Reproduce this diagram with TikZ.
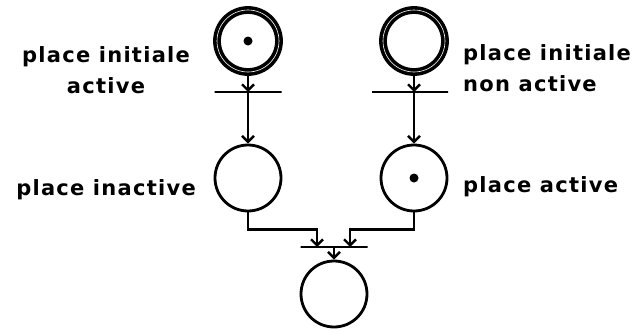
\documentclass[tikz,border=0pt]{standalone}
\usepackage{fontspec}
\setmainfont{DejaVu Sans}[BoldFont={DejaVu Sans Bold}, LetterSpace=6]
\usetikzlibrary{arrows.meta}
\tikzset{
  place/.style={circle, draw, line width=2.8pt, minimum size=66pt, inner sep=0pt},
  initplace/.style={circle, draw, line width=3.6pt, double=white, double distance=0.6pt, minimum size=62pt, inner sep=0pt},
  bar/.style={draw, line width=2.4pt, minimum height=0pt, inner sep=0pt, shape=rectangle},
  arc/.style={line width=2.6pt, -{Straight Barb[length=6pt,width=12pt,line width=2.4pt]}},
  lbl/.style={font=\fontsize{21}{31}\selectfont\bfseries, inner sep=0pt},
  token/.style={circle, fill, minimum size=9pt, inner sep=0pt}
}
\begin{document}
\begin{tikzpicture}[x=1pt,y=-1pt]
\useasboundingbox (0,0) rectangle (641,332);
% places
\node[initplace] (p1) at (248,41) {};
\node[token] (k1) at (p1.center) {};
\node[initplace] (p2) at (414,41) {};
\node[place] (p3) at (248,178) {};
\node[place] (p4) at (414,178) {};
\node[token] (k4) at (p4.center) {};
\node[place] (p5) at (334,294) {};
% transitions
\node[bar, minimum width=67pt] (t1) at (248,92) {};
\node[bar, minimum width=76pt] (t2) at (410,92) {};
\node[bar, minimum width=67pt] (t3) at (334,247) {};
% arcs
\draw[arc] (p1.south) -- (p1.south |- t1.center);
\draw[arc] (p1.south |- t1.center) -- (p3.north);
\draw[arc] (p2.south) -- (p2.south |- t2.center);
\draw[arc] (p2.south |- t2.center) -- (p4.north);
\coordinate (j1) at ([xshift=-17pt]t3.center);
\coordinate (j2) at ([xshift=16pt]t3.center);
\draw[arc] (p3.south) -- ++(0,17) -| (j1);
\draw[arc] (p4.south) -- ++(0,17) -| (j2);
\draw[arc] (t3.center) -- (p5.north);
% labels
\node[lbl, align=center] (l1) at (106,70) {place initiale\\active};
\node[lbl, align=left, anchor=west] (l2) at (463,68) {place initiale\\non active};
\node[lbl] (l3) at (106,190) {place inactive};
\node[lbl, anchor=west] (l4) at (463,187) {place active};
\end{tikzpicture}
\end{document}
